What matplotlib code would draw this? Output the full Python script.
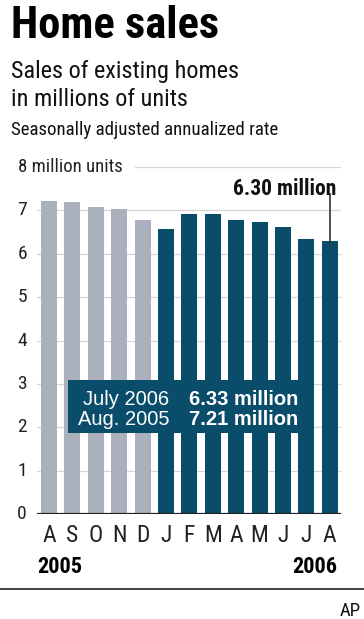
import matplotlib
matplotlib.use("Agg")
import matplotlib.pyplot as plt
from matplotlib import font_manager as fm
from matplotlib.patches import Rectangle

months = ["A", "S", "O", "N", "D", "J", "F", "M", "A", "M", "J", "J", "A"]
sales = [7.21, 7.20, 7.07, 7.04, 6.77, 6.58, 6.91, 6.91, 6.77, 6.73, 6.61, 6.33, 6.30]
year_flags = [2005] * 5 + [2006] * 8
yticks = [0, 1, 2, 3, 4, 5, 6, 7]
years = ["2005", "2006"]

names = {f.name for f in fm.fontManager.ttflist}
FONT = "Liberation Sans"
for cand in ["Roboto Condensed", "Archivo Narrow", "PT Sans Narrow", "Barlow Semi Condensed",
             "Liberation Sans Narrow"]:
    if cand in names:
        FONT = cand
        break
plt.rcParams["font.family"] = [FONT, "DejaVu Sans"]
BOXFONT = ["Liberation Sans", "DejaVu Sans"]

GRAY = "#aab1bd"
TEAL = "#0a4d6b"
W, H = 364, 619
fig = plt.figure(figsize=(W / 100, H / 100), dpi=100)

def fx(px):
    return px / W

def fy(py):
    return 1 - py / H

ax = fig.add_axes([fx(37), fy(514), fx(341) - fx(37), fy(167) - fy(514)])
ax.set_xlim(-0.51, 12.48)
ax.set_ylim(0, 8)
ax.axis("off")

xs = list(range(len(sales)))
colors = [GRAY if y == 2005 else TEAL for y in year_flags]
for yv in yticks[1:]:
    ax.axhline(yv, color="#d6d6d6", lw=0.9, zorder=0)
ax.plot([(135 - 37) / 304 * 12.99 - 0.51, 12.48], [8, 8], color="#d6d6d6", lw=0.9, zorder=0)
ax.bar(xs, sales, width=0.68, color=colors, zorder=2)
ax.axhline(0, color="#222222", lw=1.6, zorder=3)

for yv in yticks:
    ax.text(-0.51 - 10 / 23.4, yv, str(yv), ha="right", va="center", fontsize=14, color="#222222")
ax.text(-0.51 - 19 / 23.4, 8, "8 million units", ha="left", va="center", fontsize=13.5, color="#222222")

for x, m in zip(xs, months):
    ax.text(x, -0.23, m, ha="center", va="top", fontsize=17, color="#222222")

fig.text(fx(37), fy(573), years[0], ha="left", va="baseline", fontsize=16, fontweight="bold")
fig.text(fx(337), fy(573), years[1], ha="right", va="baseline", fontsize=16, fontweight="bold")

# callout on last bar
ax.plot([12, 12], [sales[-1], 7.37], color="#333333", lw=1.2, zorder=4)
fig.text(fx(336), fy(195), f"{sales[-1]:.2f} million", ha="right", va="baseline",
         fontsize=15.5, fontweight="bold", color="#111111")

# info box
fig.patches.append(Rectangle((fx(68), fy(433)), fx(308) - fx(68), fy(380) - fy(433),
                             transform=fig.transFigure, facecolor=TEAL, edgecolor="none", zorder=5))
fig.text(fx(169), fy(405), "July 2006", ha="right", va="baseline", fontsize=14.5, color="white",
         zorder=6, family=BOXFONT)
fig.text(fx(169), fy(425), "Aug. 2005", ha="right", va="baseline", fontsize=14.5, color="white",
         zorder=6, family=BOXFONT)
fig.text(fx(189), fy(405), f"{sales[11]:.2f} million", ha="left", va="baseline", fontsize=14.5,
         fontweight="bold", color="white", zorder=6, family=BOXFONT)
fig.text(fx(189), fy(425), f"{sales[0]:.2f} million", ha="left", va="baseline", fontsize=14.5,
         fontweight="bold", color="white", zorder=6, family=BOXFONT)

# titles
fig.text(fx(11), fy(38), "Home sales", ha="left", va="baseline", fontsize=32, fontweight="black", color="black")
fig.text(fx(11), fy(78), "Sales of existing homes", ha="left", va="baseline", fontsize=17.5, color="#111111")
fig.text(fx(11), fy(106), "in millions of units", ha="left", va="baseline", fontsize=17.5, color="#111111")
fig.text(fx(11), fy(135), "Seasonally adjusted annualized rate", ha="left", va="baseline", fontsize=13.6, color="#111111")

# footer
fig.add_artist(plt.Line2D([0, 1], [fy(589), fy(589)], transform=fig.transFigure, color="#222222", lw=1.2))
fig.text(fx(361), fy(616), "AP", ha="right", va="baseline", fontsize=13.5, color="#111111")

fig.savefig("out.png", dpi=100, facecolor="white")
